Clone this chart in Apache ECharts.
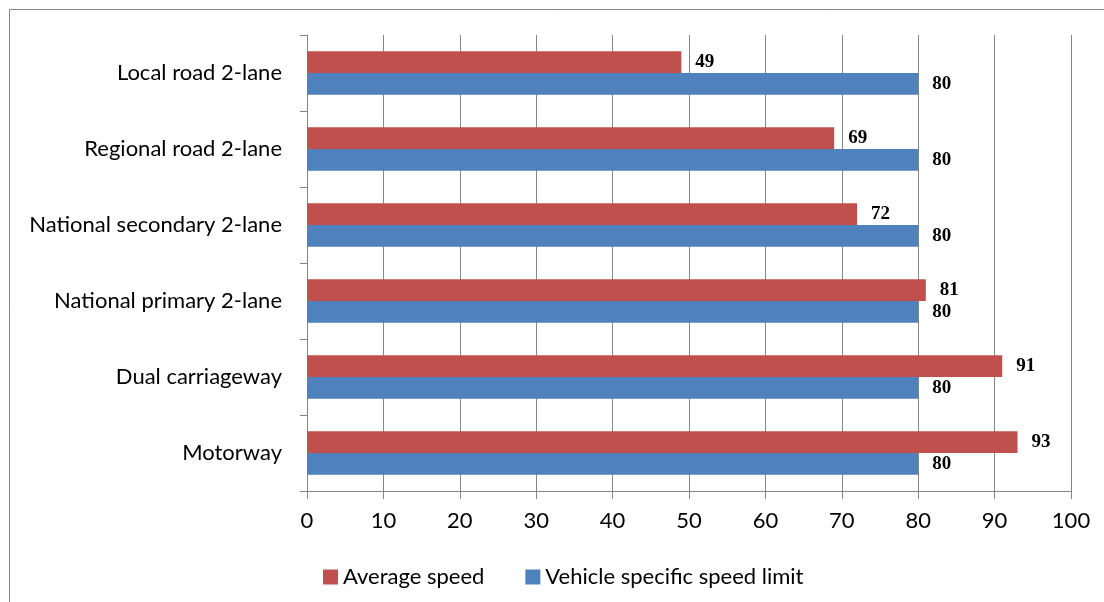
<!DOCTYPE html>
<html>
<head>
<meta charset="utf-8">
<script src="https://cdn.jsdelivr.net/npm/echarts@6/dist/echarts.min.js"></script>
<style>html,body{margin:0;padding:0;background:#fff;}#c{width:1104px;height:602px;}</style>
</head>
<body>
<div id="c"></div>
<script>
const categories = ["Local road 2-lane", "Regional road 2-lane", "National secondary 2-lane", "National primary 2-lane", "Dual carriageway", "Motorway"];
const averageSpeed = [49, 69, 72, 81, 91, 93];
const speedLimit = [80, 80, 80, 80, 80, 80];
const seriesNames = ["Average speed", "Vehicle specific speed limit"];

const chart = echarts.init(document.getElementById('c'), null, {renderer: 'canvas'});
const FONT = 'Lato, "Open Sans", sans-serif';
const labelStyle = {show: true, position: 'right', distance: 14, color: '#000', fontFamily: '"Liberation Serif", "DejaVu Serif", serif', fontWeight: 'bold', fontSize: 19};
chart.setOption({
  animation: false,
  backgroundColor: '#fff',
  graphic: [
    {type: 'line', shape: {x1: 9.5, y1: 9.5, x2: 1104, y2: 9.5}, style: {stroke: '#868686', lineWidth: 1}},
    {type: 'line', shape: {x1: 9.5, y1: 9.5, x2: 9.5, y2: 602}, style: {stroke: '#868686', lineWidth: 1}}
  ],
  grid: {left: 307, right: 33, top: 35, bottom: 111, containLabel: false},
  legend: {
    bottom: 14, left: 323, padding: 0, itemWidth: 15, itemHeight: 15, itemGap: 41, icon: 'rect',
    textStyle: {fontFamily: FONT, fontSize: 22, color: '#000'},
    data: seriesNames
  },
  xAxis: {
    type: 'value', min: 0, max: 100, interval: 10,
    axisLine: {show: true, lineStyle: {color: '#868686', width: 1}},
    axisTick: {show: true, length: 8, lineStyle: {color: '#868686'}},
    axisLabel: {fontFamily: FONT, fontSize: 22, color: '#000', margin: 19},
    splitLine: {show: true, lineStyle: {color: '#868686', width: 1}}
  },
  yAxis: {
    type: 'category', data: categories, inverse: true,
    axisLine: {show: true, lineStyle: {color: '#868686', width: 1}},
    axisTick: {show: true, length: 7, lineStyle: {color: '#868686'}},
    axisLabel: {fontFamily: FONT, fontSize: 22, color: '#000', margin: 25},
    splitLine: {show: false}
  },
  series: [
    {name: seriesNames[0], type: 'bar', data: averageSpeed, itemStyle: {color: '#C0504D'}, barGap: '0%', barCategoryGap: '43%', label: labelStyle},
    {name: seriesNames[1], type: 'bar', data: speedLimit, itemStyle: {color: '#4F81BD'}, barGap: '0%', barCategoryGap: '43%', label: labelStyle}
  ]
});
</script>
</body>
</html>
